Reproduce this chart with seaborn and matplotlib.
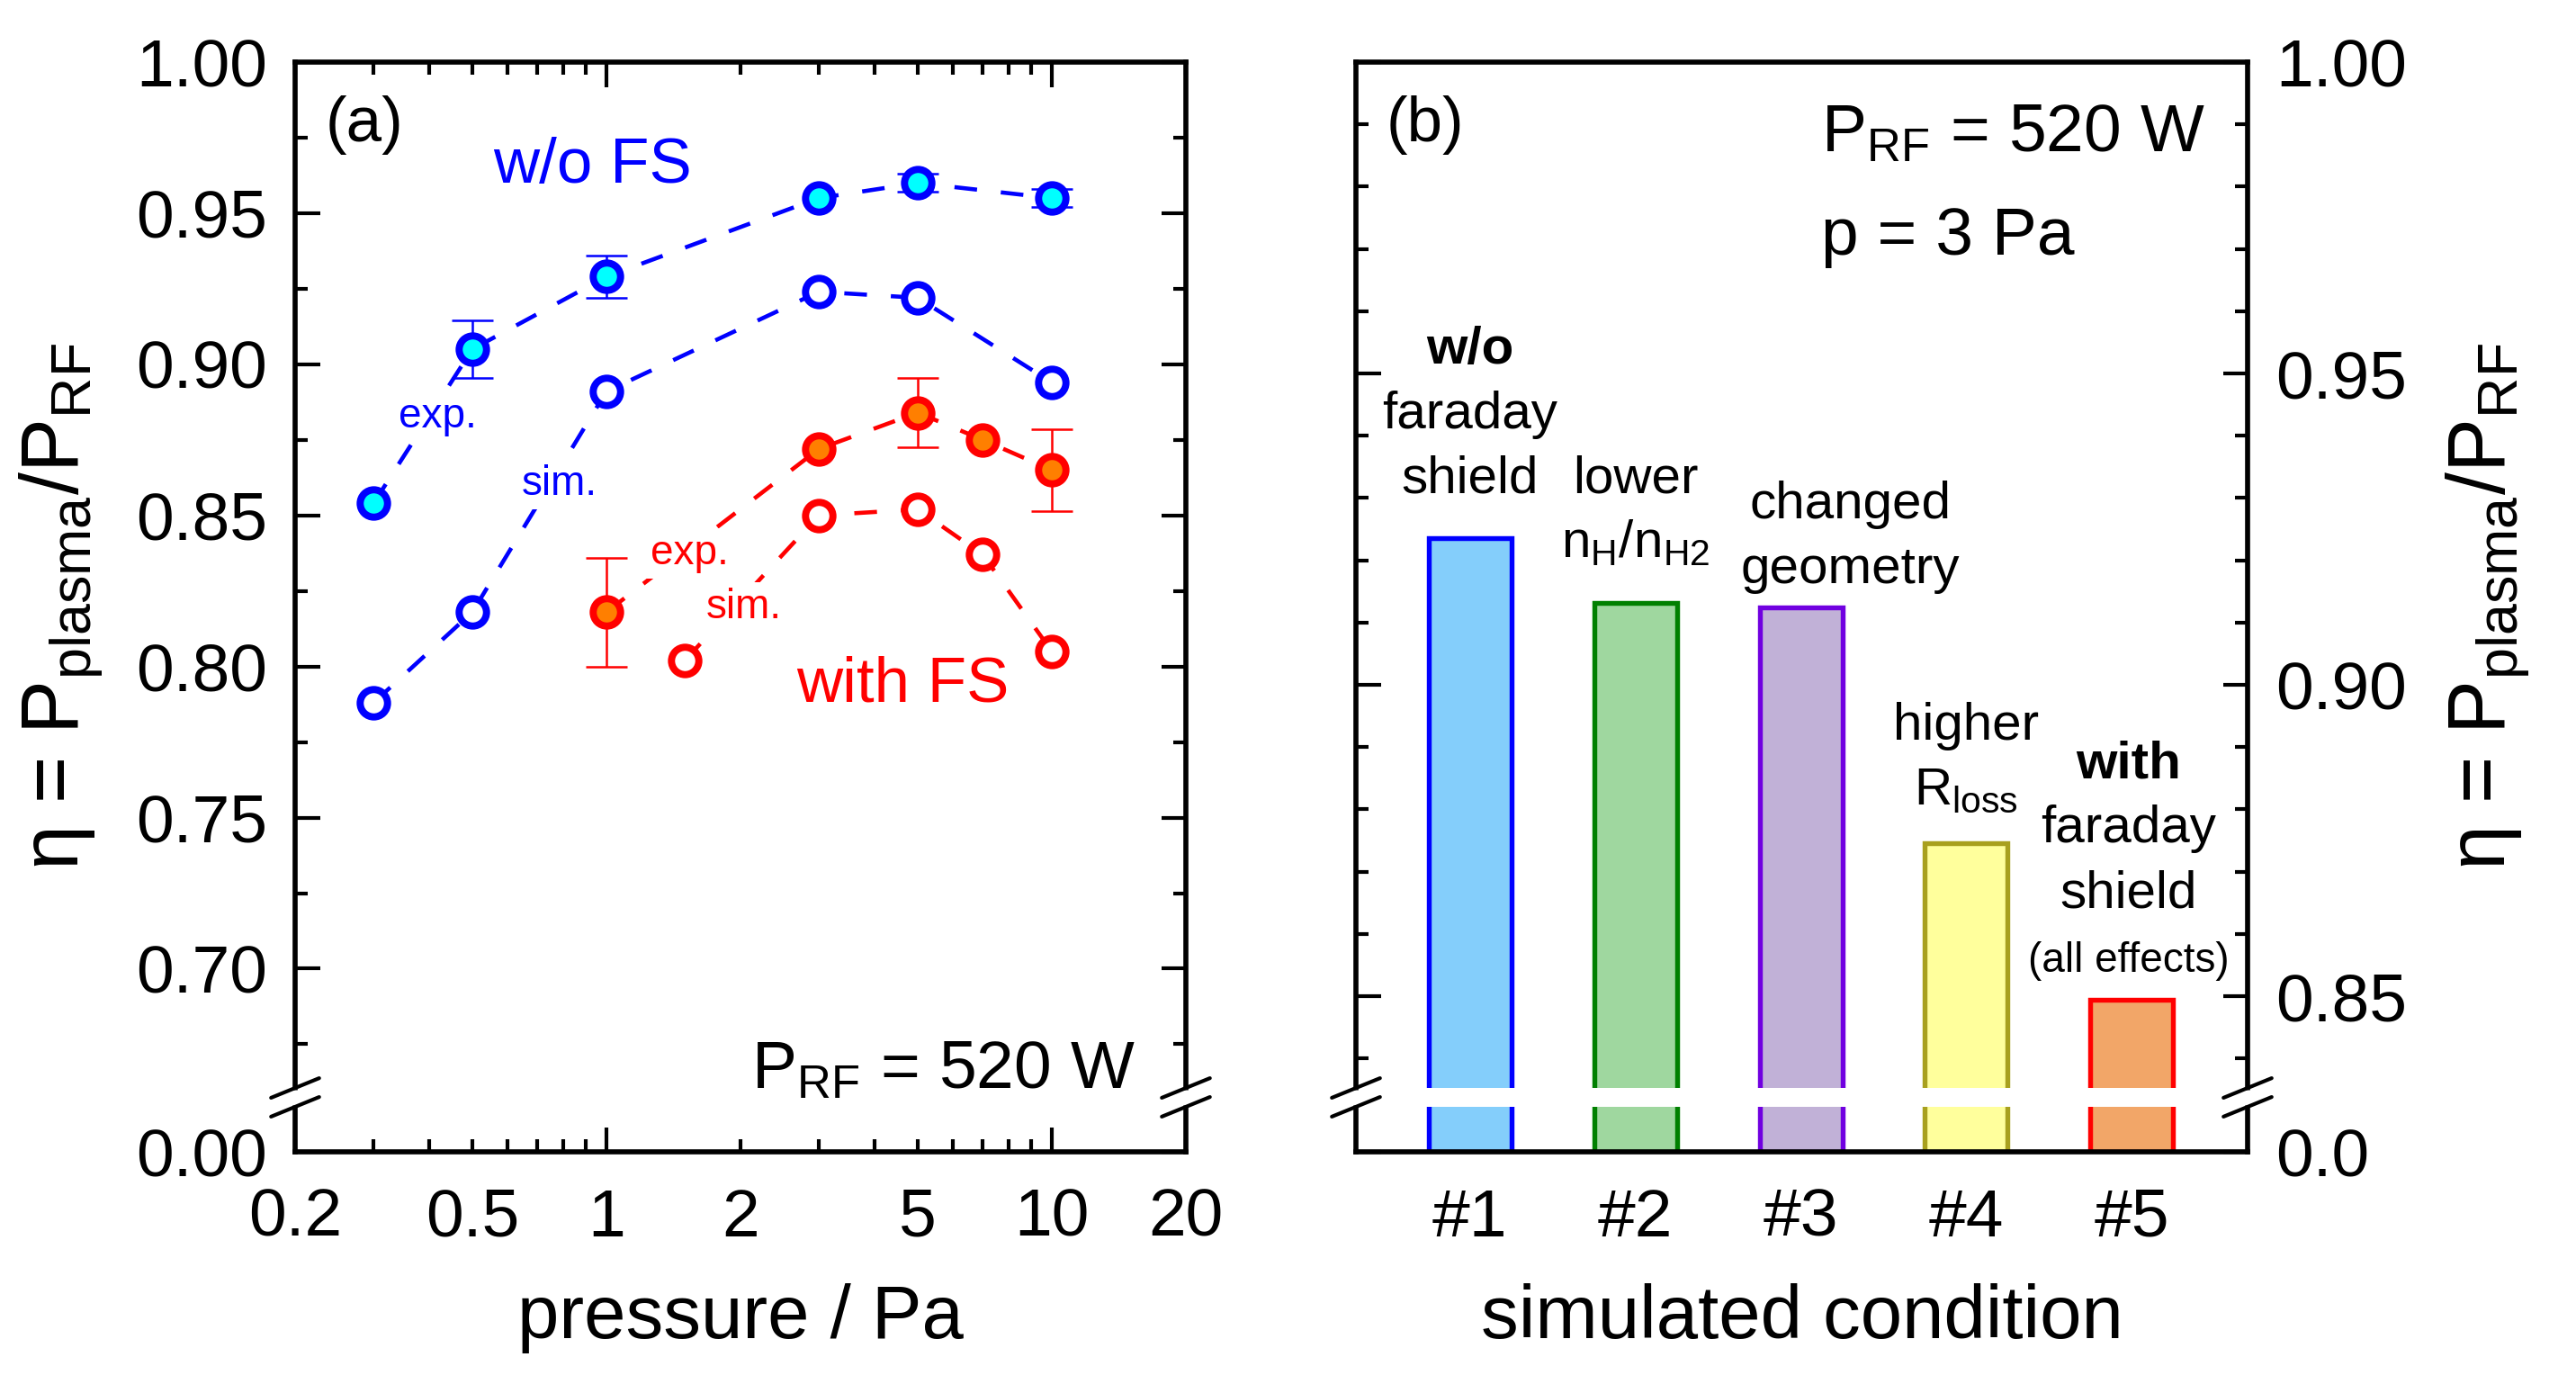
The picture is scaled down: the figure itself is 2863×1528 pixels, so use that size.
"""Plasma power transfer efficiency: pressure scan (a) and simulated conditions (b)."""
import matplotlib

matplotlib.use("Agg")
import matplotlib.pyplot as plt
import numpy as np
import seaborn as sns
from matplotlib.ticker import FixedLocator, FuncFormatter, NullFormatter

# --------------------------------------------------------------------------- #
# Data
# --------------------------------------------------------------------------- #
# (a) eta vs. pressure at P_RF = 520 W
p_exp_wo = [0.3, 0.5, 1.0, 3.0, 5.0, 10.0]
eta_exp_wo = [0.854, 0.905, 0.929, 0.955, 0.960, 0.955]
err_exp_wo = [0.0, 0.0095, 0.007, 0.0, 0.003, 0.003]

p_sim_wo = [0.3, 0.5, 1.0, 3.0, 5.0, 10.0]
eta_sim_wo = [0.788, 0.818, 0.891, 0.924, 0.922, 0.894]

p_exp_fs = [1.0, 3.0, 5.0, 7.0, 10.0]
eta_exp_fs = [0.818, 0.872, 0.884, 0.875, 0.865]
err_exp_fs = [0.018, 0.0, 0.0115, 0.0, 0.0135]

p_sim_fs = [1.5, 3.0, 5.0, 7.0, 10.0]
eta_sim_fs = [0.802, 0.850, 0.852, 0.837, 0.805]

# (b) simulated conditions at 3 Pa
conditions = ["#1", "#2", "#3", "#4", "#5"]
eta_cond = [0.9235, 0.9132, 0.9124, 0.8745, 0.8494]
bar_faces = ["#84CEFB", "#9FD79F", "#C1B1D7", "#FFFF9C", "#F2A668"]
bar_edges = ["#0000FF", "#008000", "#7000E0", "#A8A01E", "#FF0000"]

# axis ticks
xticks_a = [0.2, 0.5, 1, 2, 5, 10, 20]
xminor_a = [0.3, 0.4, 0.6, 0.7, 0.8, 0.9, 3, 4, 6, 7, 8, 9]
yticks_a = [0.0, 0.70, 0.75, 0.80, 0.85, 0.90, 0.95, 1.00]
yminor_a = [0.675, 0.725, 0.775, 0.825, 0.875, 0.925, 0.975]
yticks_b = [0.0, 0.85, 0.90, 0.95, 1.00]
yminor_b = [0.84, 0.86, 0.87, 0.88, 0.89, 0.91, 0.92, 0.93, 0.94,
            0.96, 0.97, 0.98, 0.99]

BLUE, RED = "#0000FF", "#FF0000"
ETA_LABEL = "η = P$_{\\mathrm{plasma}}$/P$_{\\mathrm{RF}}$"

# --------------------------------------------------------------------------- #
# Style
# --------------------------------------------------------------------------- #
sns.set_theme(style="ticks")
plt.rcParams["font.family"] = ["Liberation Sans", "DejaVu Sans"]
plt.rcParams["mathtext.fontset"] = "custom"
plt.rcParams["mathtext.rm"] = "Liberation Sans"
plt.rcParams["mathtext.it"] = "Liberation Sans:italic"
plt.rcParams["mathtext.bf"] = "Liberation Sans:bold"
plt.rcParams["axes.linewidth"] = 1.35
plt.rcParams["axes.edgecolor"] = "black"
for key in ("text.color", "axes.labelcolor", "xtick.color", "ytick.color"):
    plt.rcParams[key] = "black"


def broken(lo_t, gap_t, brk):
    """Piecewise-linear y scale: 0..0.05 squeezed below the break, linear above."""
    xr = np.array([-1.0, 0.0, 0.05, brk, 1.0, 2.0])
    xt = np.array([lo_t - (gap_t - lo_t) / 0.05, lo_t, gap_t, brk, 1.0, 2.0])
    return (lambda v: np.interp(v, xr, xt)), (lambda v: np.interp(v, xt, xr))


def break_marks(ax, y0=0.0413, y1=0.0586, dx=0.027, dy=0.009):
    for xs in (0, 1):
        ax.plot([xs, xs], [y0 + 0.002, y1 - 0.002], transform=ax.transAxes,
                color="white", lw=3.5, clip_on=False, zorder=5,
                solid_capstyle="butt")
        for yc in (y0, y1):
            ax.plot([xs - dx, xs + dx], [yc - dy, yc + dy],
                    transform=ax.transAxes, color="black", lw=1.0,
                    clip_on=False, zorder=6)


def style_ticks(ax):
    ax.tick_params(which="both", direction="in", width=1.0, colors="black",
                   labelsize=18)
    ax.tick_params(which="major", length=6.6)
    ax.tick_params(which="minor", length=3.4)
    ax.tick_params(axis="y", which="both", pad=7.5)
    ax.tick_params(axis="x", which="both", pad=9.5)


fig = plt.figure(figsize=(2863 / 300, 1528 / 300), dpi=300)
ax_a = fig.add_axes([0.11456, 0.16230, 0.34579, 0.79254])
ax_b = fig.add_axes([0.52637, 0.16230, 0.34614, 0.79254])

# --------------------------------------------------------------------------- #
# (a) pressure scan
# --------------------------------------------------------------------------- #
ax_a.set_xscale("log")
ax_a.set_yscale("function", functions=broken(0.6394, 0.6543, 0.6605))

dash = (0, (5.5, 5.8))
series = [
    (p_exp_wo, eta_exp_wo, BLUE, "#00FFFF"),
    (p_sim_wo, eta_sim_wo, BLUE, "white"),
    (p_exp_fs, eta_exp_fs, RED, "#FF7F00"),
    (p_sim_fs, eta_sim_fs, RED, "white"),
]
for xs, ys, ec, fc in series:
    sns.lineplot(x=xs, y=ys, ax=ax_a, color=ec, linestyle=dash, linewidth=1.1,
                 marker="o", markersize=7.3, markerfacecolor=fc,
                 markeredgecolor=ec, markeredgewidth=1.9, zorder=3)

for xs, ys, es, col in [(p_exp_wo, eta_exp_wo, err_exp_wo, BLUE),
                        (p_exp_fs, eta_exp_fs, err_exp_fs, RED)]:
    keep = [i for i, e in enumerate(es) if e > 0]
    ax_a.errorbar([xs[i] for i in keep], [ys[i] for i in keep],
                  yerr=[es[i] for i in keep], fmt="none", ecolor=col,
                  elinewidth=0.6, capsize=5.5, capthick=0.6, zorder=2)

box = dict(facecolor="white", edgecolor="none", pad=1.5)
ax_a.text(0.116, 0.6647, "exp.", color=BLUE, fontsize=11, transform=ax_a.transAxes,
          va="baseline", bbox=box, zorder=4)
ax_a.text(0.2545, 0.6028, "sim.", color=BLUE, fontsize=11, transform=ax_a.transAxes,
          va="baseline", bbox=box, zorder=4)
ax_a.text(0.399, 0.5392, "exp.", color=RED, fontsize=11, transform=ax_a.transAxes,
          va="baseline", bbox=box, zorder=4)
ax_a.text(0.4616, 0.4897, "sim.", color=RED, fontsize=11, transform=ax_a.transAxes,
          va="baseline", bbox=box, zorder=4)
ax_a.text(0.222, 0.889, "w/o FS", color=BLUE, fontsize=17, transform=ax_a.transAxes,
          va="baseline")
ax_a.text(0.563, 0.413, "with FS", color=RED, fontsize=17, transform=ax_a.transAxes,
          va="baseline")
ax_a.text(0.034, 0.927, "(a)", fontsize=17, transform=ax_a.transAxes, va="baseline")
ax_a.text(0.943, 0.0586, "P$_{\\mathrm{RF}}$ = 520 W", fontsize=18, ha="right",
          transform=ax_a.transAxes, va="baseline")

ax_a.set_xlim(0.2, 20)
ax_a.set_ylim(0.0, 1.0)
ax_a.xaxis.set_major_locator(FixedLocator([1, 10]))
ax_a.xaxis.set_minor_locator(FixedLocator([v for v in xticks_a if v not in (1, 10)]
                                          + xminor_a))
ax_a.xaxis.set_major_formatter(FuncFormatter(lambda v, _: f"{v:g}"))
ax_a.xaxis.set_minor_formatter(
    FuncFormatter(lambda v, _: f"{v:g}" if any(np.isclose(v, xticks_a)) else ""))
ax_a.yaxis.set_major_locator(FixedLocator(yticks_a))
ax_a.yaxis.set_minor_locator(FixedLocator(yminor_a))
ax_a.yaxis.set_major_formatter(FuncFormatter(lambda v, _: f"{v:.2f}"))
ax_a.yaxis.set_minor_formatter(NullFormatter())
ax_a.tick_params(which="both", top=True, right=True)
style_ticks(ax_a)
ax_a.set_xlabel("pressure / Pa", fontsize=20, labelpad=9)
ax_a.set_ylabel(ETA_LABEL, fontsize=21.5, labelpad=8)
break_marks(ax_a)

# --------------------------------------------------------------------------- #
# (b) simulated conditions
# --------------------------------------------------------------------------- #
ax_b.set_yscale("function", functions=broken(0.825, 0.8322, 0.8352))
sns.barplot(x=conditions, y=eta_cond, hue=conditions, palette=bar_faces,
            legend=False, width=0.5, saturation=1, errorbar=None, ax=ax_b,
            zorder=1)
for patch, ec in zip(ax_b.patches, bar_edges):
    patch.set_edgecolor(ec)
    patch.set_linewidth(1.3)
ax_b.axhspan(0.05, 0.8352, color="white", lw=0, zorder=2)

bar_notes = [
    (0.0, 0.9308, [("w/o", 14, "bold"), ("faraday", 14, "normal"),
                   ("shield", 14, "normal")]),
    (1.0, 0.9205, [("lower", 14, "normal"),
                   ("n$_{\\mathrm{H}}$/n$_{\\mathrm{H2}}$", 14, "normal")]),
    (2.3, 0.9163, [("changed", 14, "normal"), ("geometry", 14, "normal")]),
    (3.0, 0.8808, [("higher", 14, "normal"),
                   ("R$_{\\mathrm{loss}}$", 14, "normal")]),
    (3.98, 0.8539, [("with", 14, "bold"), ("faraday", 14, "normal"),
                    ("shield", 14, "normal"), ("(all effects)", 11, "normal")]),
]
step = 0.0104
for xc, y0, lines in bar_notes:
    for i, (txt, size, weight) in enumerate(reversed(lines)):
        ax_b.text(xc, y0 + i * step, txt, ha="center", va="baseline",
                  fontsize=size, fontweight=weight)

ax_b.text(0.034, 0.927, "(b)", fontsize=17, transform=ax_b.transAxes, va="baseline")
ax_b.text(0.522, 0.9183, "P$_{\\mathrm{RF}}$ = 520 W", fontsize=18,
          transform=ax_b.transAxes, va="baseline")
ax_b.text(0.522, 0.8233, "p = 3 Pa", fontsize=18, transform=ax_b.transAxes,
          va="baseline")

ax_b.set_xlim(-0.69, 4.70)
ax_b.set_ylim(0.0, 1.0)
ax_b.yaxis.set_major_locator(FixedLocator(yticks_b))
ax_b.yaxis.set_minor_locator(FixedLocator(yminor_b))
ax_b.yaxis.set_major_formatter(
    FuncFormatter(lambda v, _: "0.0" if v == 0 else f"{v:.2f}"))
ax_b.yaxis.set_minor_formatter(NullFormatter())
style_ticks(ax_b)
ax_b.tick_params(axis="y", which="both", left=True, right=True,
                 labelleft=False, labelright=True)
ax_b.tick_params(axis="x", which="both", length=0, bottom=False, top=False)
ax_b.yaxis.set_label_position("right")
ax_b.set_xlabel("simulated condition", fontsize=20, labelpad=9)
ax_b.set_ylabel(ETA_LABEL, fontsize=21.5, labelpad=10)
break_marks(ax_b)

fig.savefig("out.png", dpi=300, facecolor="white")
plt.close(fig)
